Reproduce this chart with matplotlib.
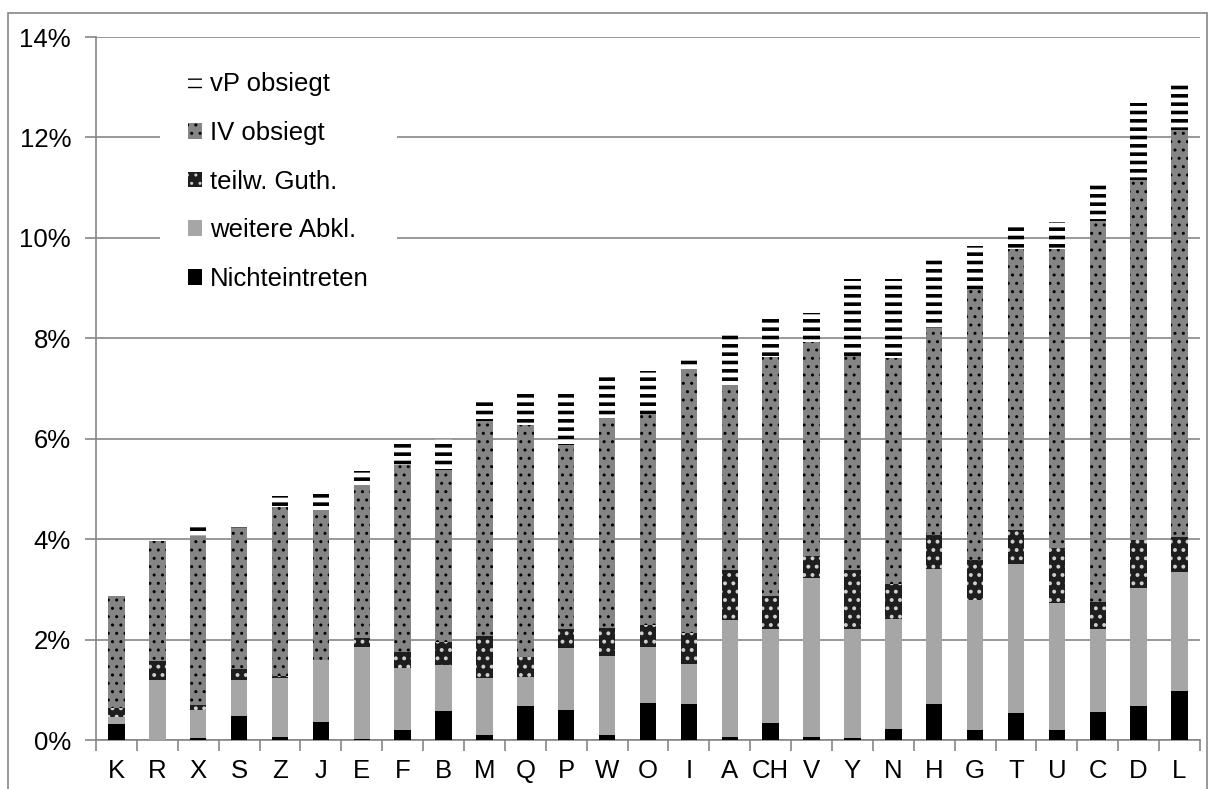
import matplotlib.pyplot as plt
import matplotlib as mpl
import numpy as np
from matplotlib.patches import Rectangle
from matplotlib.ticker import FuncFormatter, FixedLocator

plt.rcParams['font.family'] = ['Liberation Sans', 'DejaVu Sans']

# categories and segment values (percent)
cats = ['K', 'R', 'X', 'S', 'Z', 'J', 'E', 'F', 'B', 'M', 'Q', 'P', 'W', 'O',
        'I', 'A', 'CH', 'V', 'Y', 'N', 'H', 'G', 'T', 'U', 'C', 'D', 'L']
nicht = [0.31, 0.00, 0.04, 0.47, 0.06, 0.35, 0.02, 0.19, 0.58, 0.09, 0.68, 0.59, 0.09, 0.73,
         0.72, 0.05, 0.33, 0.05, 0.04, 0.22, 0.71, 0.20, 0.54, 0.20, 0.55, 0.68, 0.97]
weitere = [0.14, 1.20, 0.55, 0.72, 1.18, 1.25, 1.84, 1.25, 0.92, 1.15, 0.58, 1.24, 1.59, 1.13,
           0.80, 2.34, 1.89, 3.17, 2.17, 2.19, 2.69, 2.59, 2.96, 2.52, 1.66, 2.35, 2.38]
teilw = [0.18, 0.38, 0.11, 0.23, 0.03, 0.00, 0.18, 0.31, 0.45, 0.83, 0.39, 0.38, 0.55, 0.43,
         0.62, 0.99, 0.64, 0.44, 1.17, 0.70, 0.69, 0.79, 0.68, 1.11, 0.53, 0.95, 0.69]
iv = [2.23, 2.38, 3.36, 2.81, 3.37, 2.99, 3.04, 3.73, 3.42, 4.29, 4.62, 3.67, 4.18, 4.20,
      5.25, 3.68, 4.77, 4.27, 4.26, 4.49, 4.12, 5.41, 5.59, 5.94, 7.60, 7.18, 8.10]
vp = [0.00, 0.02, 0.20, 0.07, 0.21, 0.35, 0.27, 0.41, 0.62, 0.44, 0.67, 1.06, 0.87, 0.86,
      0.21, 1.06, 0.83, 0.57, 1.54, 1.58, 1.41, 0.84, 0.46, 0.55, 0.78, 1.52, 0.96]

grid_col = '#868686'

fig = plt.figure(figsize=(12.1, 7.89), dpi=100)
ax = fig.add_axes([96 / 1210, 1 - 740 / 789, 1104 / 1210, 703 / 789])

x = np.arange(len(cats))
w = 0.4
bottom = np.zeros(len(cats))

b1 = ax.bar(x, nicht, w, bottom=bottom, color='black', linewidth=0, zorder=3)
bottom += np.array(nicht)
b2 = ax.bar(x, weitere, w, bottom=bottom, color='#a6a6a6', linewidth=0, zorder=3)
bottom += np.array(weitere)
with mpl.rc_context({'hatch.linewidth': 1.6}):
    b3 = ax.bar(x, teilw, w, bottom=bottom, color='#1e1e1e', edgecolor='#d0d0d0',
                hatch='..', linewidth=0, zorder=3)
bottom += np.array(teilw)
with mpl.rc_context({'hatch.linewidth': 1.0}):
    b4 = ax.bar(x, iv, w, bottom=bottom, color='#858585', edgecolor='black',
                hatch='..', linewidth=0, zorder=3)
bottom += np.array(iv)
with mpl.rc_context({'hatch.linewidth': 2.6}):
    b5 = ax.bar(x, vp, w, bottom=bottom, color='white', edgecolor='black',
                hatch='--', linewidth=0, zorder=3)

ax.set_xlim(-0.5, len(cats) - 0.5)
ax.set_ylim(0, 14)
ax.set_yticks(np.arange(0, 15, 2))
ax.yaxis.set_major_formatter(FuncFormatter(lambda v, p: f'{v:.0f}%'))
ax.grid(axis='y', color=grid_col, linewidth=1.2, zorder=0)
ax.set_axisbelow(True)

ax.set_xticks(x)
ax.set_xticklabels(cats)
ax.xaxis.set_minor_locator(FixedLocator(np.arange(-0.5, len(cats), 1)))
ax.tick_params(axis='x', which='major', length=0, labelsize=18.5, pad=14)
ax.tick_params(axis='x', which='minor', length=8, color=grid_col, width=1.2)
ax.tick_params(axis='y', length=8, color=grid_col, width=1.2, labelsize=18.5, pad=10)

for s in ['top', 'right']:
    ax.spines[s].set_visible(False)
for s in ['left', 'bottom']:
    ax.spines[s].set_color(grid_col)
    ax.spines[s].set_linewidth(1.2)

leg = ax.legend([b5, b4, b3, b2, b1],
                ['vP obsiegt', 'IV obsiegt', 'teilw. Guth.', 'weitere Abkl.', 'Nichteintreten'],
                loc='upper left', bbox_to_anchor=(160 / 1210, 1 - 44 / 789),
                bbox_transform=fig.transFigure, fontsize=18.5, frameon=True,
                facecolor='white', edgecolor='none', framealpha=1, fancybox=False,
                handlelength=0.55, handleheight=0.55, handletextpad=0.3,
                labelspacing=0.96, borderpad=1.1, borderaxespad=0)
leg.set_zorder(5)

# outer chart frame
fig.patches.append(Rectangle((8 / 1210, -0.05), 1199 / 1210, 1.05 - 13 / 789,
                             transform=fig.transFigure, fill=False,
                             edgecolor=grid_col, linewidth=1.2))

fig.savefig('out.png', dpi=100)
